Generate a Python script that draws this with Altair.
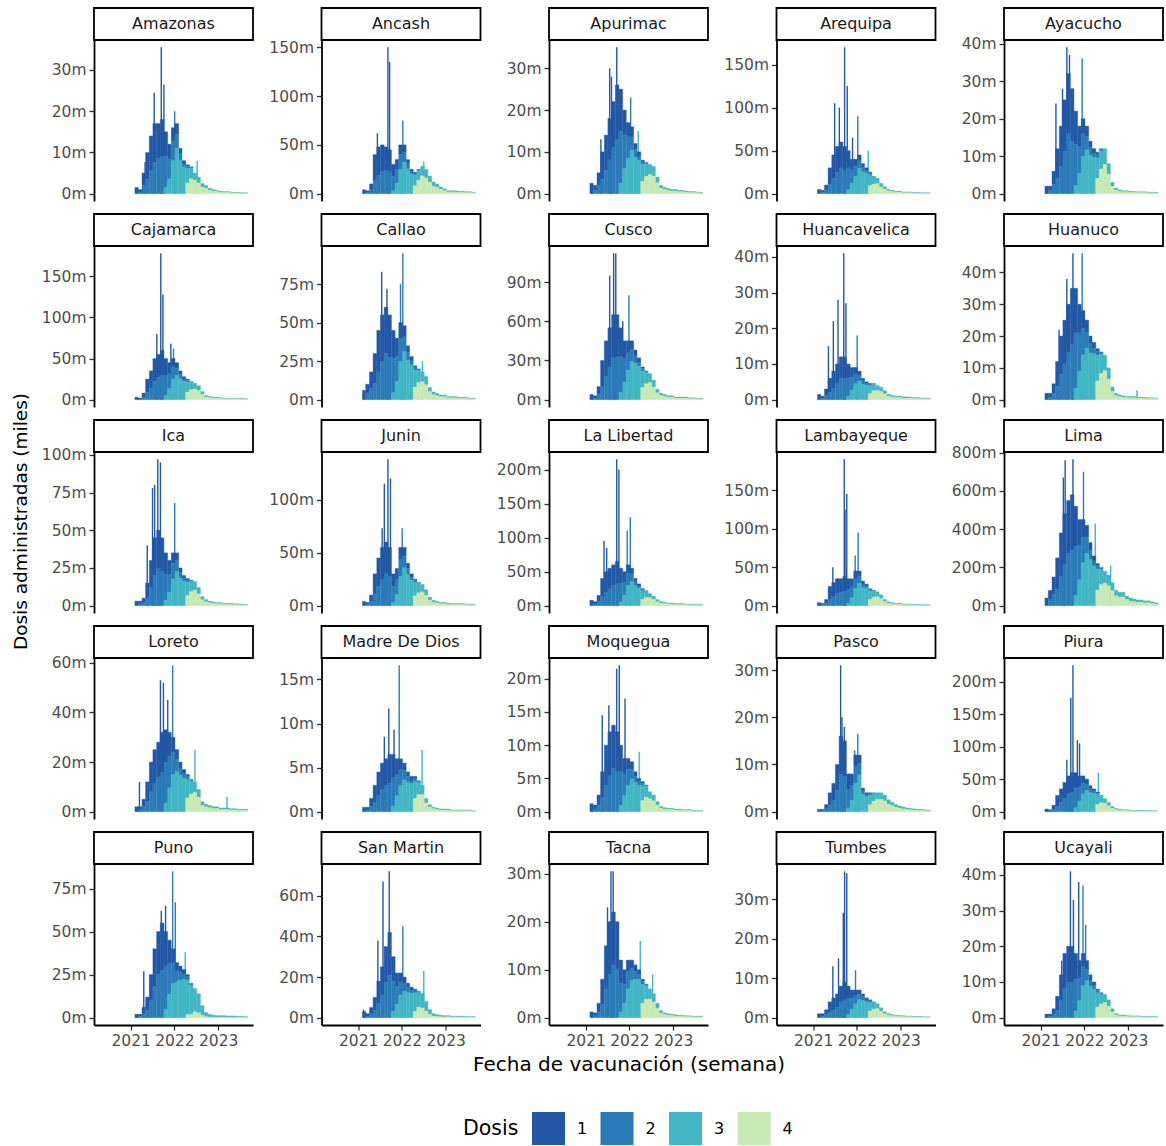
import altair as alt
import pandas as pd

FUENTE = "DejaVu Sans"

REGIONES = [
    "Amazonas", "Ancash", "Apurimac", "Arequipa", "Ayacucho",
    "Cajamarca", "Callao", "Cusco", "Huancavelica", "Huanuco",
    "Ica", "Junin", "La Libertad", "Lambayeque", "Lima",
    "Loreto", "Madre De Dios", "Moquegua", "Pasco", "Piura",
    "Puno", "San Martin", "Tacna", "Tumbes", "Ucayali",
]

MESES = [
    "2021-02-01T00:00", "2021-03-01T00:00", "2021-04-01T00:00", "2021-05-01T00:00",
    "2021-06-01T00:00", "2021-07-01T00:00", "2021-08-01T00:00", "2021-09-01T00:00",
    "2021-10-01T00:00", "2021-11-01T00:00", "2021-12-01T00:00", "2022-01-01T00:00",
    "2022-02-01T00:00", "2022-03-01T00:00", "2022-04-01T00:00", "2022-05-01T00:00",
    "2022-06-01T00:00", "2022-07-01T00:00", "2022-08-01T00:00", "2022-09-01T00:00",
    "2022-10-01T00:00", "2022-11-01T00:00", "2022-12-01T00:00", "2023-01-01T00:00",
    "2023-02-01T00:00", "2023-03-01T00:00", "2023-04-01T00:00", "2023-05-01T00:00",
    "2023-06-01T00:00", "2023-07-01T00:00", "2023-08-01T00:00",
]

# index of the first month of each dose's list in MESES
INICIO = {"1": 0, "2": 1, "3": 8, "4": 14}
DOSIS = ["1", "2", "3", "4"]
COLORES = ["#2258a5", "#2c7cb8", "#41b6c4", "#c7e9b4"]

# weekly doses (thousands) per month and dose
AMAZONAS = {
    "1": [1.5, 0.6, 3, 6.5, 8.4, 9.4, 8.5, 9, 6, 3.6, 3.2, 2.6, 1.3, 0.8, 0.35],
    "2": [0.4, 2, 3.5, 5.6, 7.6, 8.5, 9, 7.5, 4.8, 4.8, 3.4, 1.7, 0.8, 0.56, 0.33],
    "3": [1.5, 3.6, 8, 11, 8, 6.4, 3.5, 2.6, 1.75, 1.4, 0.88, 0.7, 0.46, 0.35, 0.28, 0.24, 0.2, 0.2, 0.16, 0.12, 0.12, 0.08, 0.08],
    "4": [2.6, 3.6, 3.25, 2.6, 1.6, 1.3, 0.85, 0.65, 0.52, 0.36, 0.3, 0.3, 0.24, 0.18, 0.18, 0.12, 0.12],
}
ANCASH = {
    "1": [4, 1.8, 6, 26, 29, 27.5, 24, 22.5, 12, 10.5, 10, 7.5, 4.2, 2.5, 1.1],
    "2": [1.2, 4, 14, 19, 22.5, 24, 22.5, 15, 14, 15, 10, 5.2, 2.5, 1.8, 1.2],
    "3": [3, 10.5, 25, 32.5, 25.5, 20, 11, 10, 9.8, 8.75, 6.3, 4.2, 3.5, 2.45, 1.75, 1.2, 1.2, 1.2, 1, 1, 0.8, 0.8, 0.6],
    "4": [8.1, 13.8, 18.2, 16.2, 11.7, 7.8, 6.5, 4.5, 3.2, 1.8, 1.8, 1.8, 1.5, 1.5, 1.2, 1.2, 0.9],
}
APURIMAC = {
    "1": [2.5, 1.2, 3, 6.5, 8.4, 9.9, 11, 13, 10, 6, 3.4, 2.4, 1.44, 1, 0.4],
    "2": [0.8, 2, 3.5, 5.6, 8.1, 11, 13, 12.5, 8, 5.1, 3.2, 1.8, 1, 0.64, 0.38],
    "3": [2.5, 6, 8.5, 10.4, 8.76, 8, 4, 3, 2.45, 2.28, 1.4, 0.7, 0.53, 0.42, 0.35, 0.4, 0.32, 0.32, 0.24, 0.2, 0.2, 0.16, 0.12],
    "4": [2.96, 4.13, 4.55, 4.23, 2.6, 1.3, 0.98, 0.78, 0.65, 0.6, 0.48, 0.48, 0.36, 0.3, 0.3, 0.24, 0.18],
}
AREQUIPA = {
    "1": [5, 2.4, 6, 19.5, 27, 30.25, 30, 27.5, 20, 12, 8, 6.75, 4.2, 3, 1.25],
    "2": [1.6, 4, 10.5, 18, 24.75, 30, 27.5, 25, 16, 12, 9, 5.25, 3, 2, 1],
    "3": [5, 12, 20, 29.25, 25.55, 24, 12.5, 8, 6.3, 4.2, 2.8, 1.75, 1.4, 1.05, 1.05, 0.8, 0.8, 0.8, 0.6, 0.6, 0.4, 0.4, 0.4],
    "4": [9.25, 11, 11.7, 7.8, 5.2, 3.25, 2.6, 1.95, 1.95, 1.2, 1.2, 1.2, 0.9, 0.9, 0.6, 0.6, 0.6],
}
AYACUCHO = {
    "1": [2, 1.2, 3.6, 7.8, 10.8, 13.75, 16, 14, 8.8, 5.4, 4, 2.7, 1.68, 1.2, 0.55],
    "2": [0.8, 2.4, 4.2, 7.2, 11.25, 16, 14, 11, 7.2, 6, 3.6, 2.1, 1.2, 0.88, 0.6],
    "3": [2.2, 5.4, 10, 11.7, 10.2, 9.6, 5.5, 4.8, 4.2, 2.8, 1.05, 0.53, 0.35, 0.28, 0.28, 0.24, 0.24, 0.2, 0.2, 0.2, 0.16, 0.16, 0.12],
    "4": [4.07, 6.6, 7.8, 5.2, 1.95, 0.98, 0.65, 0.52, 0.52, 0.36, 0.36, 0.3, 0.3, 0.3, 0.24, 0.24, 0.18],
}
CAJAMARCA = {
    "1": [3, 1.2, 4.8, 16.25, 21, 27.5, 27.5, 30, 20, 13.5, 10, 6.75, 4.2, 2.8, 1.25],
    "2": [0.8, 3.2, 8.75, 14, 22.5, 27.5, 30, 25, 18, 15, 9, 5.25, 2.8, 2, 1.1],
    "3": [5, 13.5, 25, 29.25, 25.55, 22.4, 12.5, 8.8, 7, 5.95, 3.5, 1.75, 1.4, 1.05, 1.05, 1, 0.8, 0.8, 0.8, 0.8, 0.6, 0.6, 0.4],
    "4": [9.25, 12.1, 13, 11.05, 6.5, 3.25, 2.6, 1.95, 1.95, 1.5, 1.2, 1.2, 1.2, 1.2, 0.9, 0.9, 0.6],
}
CALLAO = {
    "1": [6, 6, 10.8, 19.5, 27, 30.25, 30, 27.5, 18, 12, 10, 7.2, 4.2, 2.8, 1.1],
    "2": [4, 7.2, 10.5, 18, 24.75, 30, 27.5, 22.5, 16, 15, 9.6, 5.25, 2.8, 1.76, 1],
    "3": [4.5, 12, 25, 31.2, 25.55, 22.4, 11, 8, 6.3, 5.25, 2.8, 1.75, 1.4, 1.05, 1.05, 0.8, 0.8, 0.8, 0.6, 0.6, 0.6, 0.4, 0.4],
    "4": [8.14, 11, 11.7, 9.75, 5.2, 3.25, 2.6, 1.95, 1.95, 1.2, 1.2, 1.2, 0.9, 0.9, 0.9, 0.6, 0.6],
}
CUSCO = {
    "1": [4, 1.8, 6, 19.5, 27, 30.25, 32.5, 32.5, 22, 13.5, 9, 6.75, 4.56, 3.2, 1.25],
    "2": [1.2, 4, 10.5, 18, 24.75, 32.5, 32.5, 27.5, 18, 13.5, 9, 5.7, 3.2, 2, 1.1],
    "3": [5.5, 13.5, 22.5, 29.25, 27.74, 25.6, 12.5, 8.8, 7, 5.25, 2.8, 1.75, 1.4, 1.05, 1.05, 0.8, 0.8, 0.8, 0.8, 0.6, 0.6, 0.4, 0.4],
    "4": [9.25, 12.1, 13, 9.75, 5.2, 3.25, 2.6, 1.95, 1.95, 1.2, 1.2, 1.2, 1.2, 0.9, 0.9, 0.6, 0.6],
}
HUANCAVELICA = {
    "1": [1.5, 0.6, 1.8, 3.9, 4.8, 5.5, 6, 6, 4, 2.7, 1.8, 1.2, 0.72, 0.5, 0.23],
    "2": [0.4, 1.2, 2.1, 3.2, 4.5, 6, 6, 5, 3.6, 2.7, 1.6, 0.9, 0.5, 0.36, 0.23],
    "3": [1, 2.7, 4.5, 5.2, 4.38, 4, 2.25, 1.8, 1.4, 1.23, 0.88, 0.53, 0.42, 0.35, 0.35, 0.32, 0.32, 0.28, 0.24, 0.24, 0.2, 0.2, 0.16],
    "4": [1.67, 2.48, 2.6, 2.28, 1.63, 0.98, 0.78, 0.65, 0.65, 0.48, 0.48, 0.42, 0.36, 0.36, 0.3, 0.3, 0.24],
}
HUANUCO = {
    "1": [2, 1.2, 3, 7.8, 12, 13.75, 15, 17.5, 14, 9, 5.6, 3.75, 2.4, 1.8, 0.8],
    "2": [0.8, 2, 4.2, 8, 11.25, 15, 17.5, 17.5, 12, 8.4, 5, 3, 1.8, 1.28, 0.75],
    "3": [3.5, 9, 14, 16.25, 14.6, 14.4, 8, 6, 4.9, 3.5, 1.4, 0.7, 0.53, 0.42, 0.35, 0.4, 0.4, 0.32, 0.32, 0.28, 0.24, 0.24, 0.2],
    "4": [5.92, 8.25, 9.1, 6.5, 2.6, 1.3, 0.98, 0.78, 0.65, 0.6, 0.6, 0.48, 0.48, 0.42, 0.36, 0.36, 0.3],
}
ICA = {
    "1": [3, 1.8, 3, 9.75, 18, 24.75, 25, 22.5, 14, 9, 7, 5.25, 3, 2, 0.9],
    "2": [1.2, 2, 5.25, 12, 20.25, 25, 22.5, 17.5, 12, 10.5, 7, 3.75, 2, 1.44, 0.85],
    "3": [3.5, 9, 17.5, 22.75, 18.25, 16, 9, 6.8, 5.6, 4.2, 2.1, 1.4, 1.05, 0.88, 0.7, 0.8, 0.6, 0.6, 0.6, 0.48, 0.48, 0.4, 0.4],
    "4": [6.66, 9.35, 10.4, 7.8, 3.9, 2.6, 1.95, 1.63, 1.3, 1.2, 0.9, 0.9, 0.9, 0.72, 0.72, 0.6, 0.6],
}
JUNIN = {
    "1": [4, 1.8, 6, 19.5, 27, 30.25, 30, 27.5, 12, 10.5, 11, 8.25, 4.8, 3, 1.25],
    "2": [1.2, 4, 10.5, 18, 24.75, 30, 27.5, 15, 14, 16.5, 11, 6, 3, 2, 1.1],
    "3": [3, 10.5, 27.5, 35.75, 29.2, 24, 12.5, 8.8, 7, 5.25, 2.8, 1.75, 1.4, 1.05, 1.05, 1, 0.8, 0.8, 0.8, 0.8, 0.6, 0.6, 0.4],
    "4": [9.25, 12.1, 13, 9.75, 5.2, 3.25, 2.6, 1.95, 1.95, 1.5, 1.2, 1.2, 1.2, 1.2, 0.9, 0.9, 0.6],
}
LA_LIBERTAD = {
    "1": [8, 3.6, 9, 26, 30, 30.25, 30, 32.5, 22, 15, 12, 8.25, 4.8, 3.2, 1.25],
    "2": [2.4, 6, 14, 20, 24.75, 30, 32.5, 27.5, 20, 18, 11, 6, 3.2, 2, 1.1],
    "3": [5.5, 15, 30, 35.75, 29.2, 25.6, 12.5, 8.8, 6.3, 4.9, 3.15, 2.1, 1.75, 1.4, 1.4, 1.2, 1.2, 1.2, 1, 1, 0.8, 0.8, 0.6],
    "4": [9.25, 12.1, 11.7, 9.1, 5.85, 3.9, 3.25, 2.6, 2.6, 1.8, 1.8, 1.8, 1.5, 1.5, 1.2, 1.2, 0.9],
}
LAMBAYEQUE = {
    "1": [4, 1.8, 4.8, 16.25, 18, 19.25, 17.5, 19, 14, 10.5, 9, 6.75, 3.84, 2.8, 1.1],
    "2": [1.2, 3.2, 8.75, 12, 15.75, 17.5, 19, 17.5, 14, 13.5, 9, 4.8, 2.8, 1.76, 1],
    "3": [3.5, 10.5, 22.5, 29.25, 23.36, 22.4, 11, 8, 6.3, 4.9, 2.8, 1.75, 1.4, 1.05, 1.05, 0.8, 0.8, 0.8, 0.6, 0.6, 0.48, 0.48, 0.4],
    "4": [8.14, 11, 11.7, 9.1, 5.2, 3.25, 2.6, 1.95, 1.95, 1.2, 1.2, 1.2, 0.9, 0.9, 0.72, 0.72, 0.6],
}
LIMA = {
    "1": [40, 48, 90, 162.5, 228, 264, 275, 290, 208, 135, 90, 63, 39.6, 26, 11],
    "2": [32, 60, 87.5, 152, 216, 275, 290, 260, 180, 135, 84, 49.5, 26, 17.6, 10],
    "3": [52, 135, 225, 273, 241, 208, 110, 80, 63, 56, 42, 28, 24.5, 24.5, 17.5, 16, 14, 12, 12, 10, 10, 8, 6],
    "4": [81.4, 110, 117, 104, 78, 52, 45.5, 45.5, 32.5, 24, 21, 18, 18, 15, 15, 12, 9],
}
LORETO = {
    "1": [2, 1.2, 3, 7.8, 12, 13.75, 14, 16, 13.2, 9.6, 6, 3.75, 2.4, 1.7, 0.75],
    "2": [0.8, 2, 4.2, 8, 11.25, 14, 16, 16.5, 12.8, 9, 5, 3, 1.7, 1.2, 0.65],
    "3": [3.3, 9.6, 15, 16.25, 14.6, 13.6, 7.5, 5.2, 4.2, 3.15, 1.4, 1.05, 0.88, 0.7, 0.7, 0.6, 0.6, 0.6, 0.48, 0.48, 0.4, 0.4, 0.4],
    "4": [5.55, 7.15, 7.8, 5.85, 2.6, 1.95, 1.63, 1.3, 1.3, 0.9, 0.9, 0.9, 0.72, 0.72, 0.6, 0.6, 0.6],
}
MADRE_DE_DIOS = {
    "1": [0.5, 0.3, 0.9, 1.95, 2.7, 3.03, 3, 3.25, 2.6, 1.8, 1.2, 0.83, 0.54, 0.4, 0.2],
    "2": [0.2, 0.6, 1.05, 1.8, 2.48, 3, 3.25, 3.25, 2.4, 1.8, 1.1, 0.68, 0.4, 0.32, 0.18],
    "3": [0.65, 1.8, 3, 3.58, 3.29, 3.2, 2, 1.4, 1.05, 0.53, 0.28, 0.18, 0.14, 0.11, 0.11, 0.12, 0.08, 0.08, 0.08, 0.08, 0.08, 0.08, 0.04],
    "4": [1.48, 1.93, 1.95, 0.98, 0.52, 0.33, 0.26, 0.2, 0.2, 0.18, 0.12, 0.12, 0.12, 0.12, 0.12, 0.12, 0.06],
}
MOQUEGUA = {
    "1": [1.2, 0.6, 1.5, 3.9, 6, 6.6, 6.5, 6, 4, 2.4, 1.6, 1.13, 0.72, 0.5, 0.23],
    "2": [0.4, 1, 2.1, 4, 5.4, 6.5, 6, 5, 3.2, 2.4, 1.5, 0.9, 0.5, 0.36, 0.2],
    "3": [1, 2.4, 4, 4.88, 4.38, 4, 2.25, 1.6, 1.05, 0.88, 0.53, 0.28, 0.21, 0.18, 0.18, 0.16, 0.16, 0.12, 0.12, 0.12, 0.08, 0.08, 0.08],
    "4": [1.67, 2.2, 1.95, 1.63, 0.98, 0.52, 0.39, 0.33, 0.33, 0.24, 0.24, 0.18, 0.18, 0.18, 0.12, 0.12, 0.12],
}
PASCO = {
    "1": [0.5, 0.3, 0.9, 2.6, 3.6, 5.5, 8, 7.5, 3.2, 2.4, 2.4, 1.8, 0.6, 0.4, 0.2],
    "2": [0.2, 0.6, 1.4, 2.4, 4.5, 8, 7.5, 4, 3.2, 3.6, 2.4, 0.75, 0.4, 0.32, 0.2],
    "3": [0.8, 2.4, 6, 7.8, 3.65, 3.2, 2, 1.6, 1.4, 1.4, 1.23, 0.88, 0.7, 0.53, 0.42, 0.4, 0.32, 0.28, 0.24, 0.2, 0.2, 0.16, 0.12],
    "4": [1.48, 2.2, 2.6, 2.6, 2.28, 1.63, 1.3, 0.98, 0.78, 0.6, 0.48, 0.42, 0.36, 0.3, 0.3, 0.24, 0.18],
}
PIURA = {
    "1": [4, 1.8, 6, 16.25, 21, 24.75, 27.5, 30, 24, 16.5, 11, 7.5, 4.8, 3.5, 1.5],
    "2": [1.2, 4, 8.75, 14, 20.25, 27.5, 30, 30, 22, 16.5, 10, 6, 3.5, 2.4, 1.25],
    "3": [6, 16.5, 27.5, 32.5, 29.2, 28, 15, 10, 7, 4.9, 2.8, 1.75, 1.4, 1.05, 1.05, 1, 0.8, 0.8, 0.8, 0.6, 0.6, 0.6, 0.4],
    "4": [11.1, 13.75, 13, 9.1, 5.2, 3.25, 2.6, 1.95, 1.95, 1.5, 1.2, 1.2, 1.2, 0.9, 0.9, 0.9, 0.6],
}
PUNO = {
    "1": [2, 1.2, 3.6, 7.8, 15, 22, 25, 27.5, 20, 13.5, 8, 4.8, 3.6, 2.8, 1.25],
    "2": [0.8, 2.4, 4.2, 10, 18, 25, 27.5, 25, 18, 12, 6.4, 4.5, 2.8, 2, 1],
    "3": [5, 13.5, 20, 20.8, 21.9, 22.4, 20, 17, 13.6, 11.2, 5.6, 2.4, 1.6, 1.2, 0.96, 0.84, 0.84, 0.7, 0.7, 0.7, 0.56, 0.56, 0.42],
    "4": [1.75, 2, 3.4, 2.8, 1.4, 0.6, 0.4, 0.3, 0.24, 0.36, 0.36, 0.3, 0.3, 0.3, 0.24, 0.24, 0.18],
}
SAN_MARTIN = {
    "1": [3, 1.2, 3, 6.5, 10.8, 13.75, 17.5, 21, 12, 6.6, 4.4, 3, 2.04, 1.5, 0.7],
    "2": [0.8, 2, 3.5, 7.2, 11.25, 17.5, 21, 15, 8.8, 6.6, 4, 2.55, 1.5, 1.12, 0.65],
    "3": [3, 6.6, 11, 13, 12.41, 12, 9.1, 7.15, 7.2, 4.8, 2.4, 1.2, 0.9, 0.72, 0.6, 0.5, 0.4, 0.4, 0.35, 0.35, 0.3, 0.25, 0.25],
    "4": [3.1, 5.2, 4.8, 3.2, 1.6, 0.8, 0.6, 0.48, 0.4, 0.5, 0.4, 0.4, 0.35, 0.35, 0.3, 0.25, 0.25],
}
TACNA = {
    "1": [1.2, 0.6, 1.8, 5.2, 9, 11, 11, 10, 4.8, 3, 2.4, 1.8, 1.32, 1, 0.4],
    "2": [0.4, 1.2, 2.8, 6, 9, 11, 10, 6, 4, 3.6, 2.4, 1.65, 1, 0.64, 0.35],
    "3": [1.2, 3, 6, 7.8, 8.03, 8, 4, 2.8, 2.1, 1.75, 1.05, 0.53, 0.35, 0.28, 0.25, 0.24, 0.2, 0.2, 0.16, 0.16, 0.12, 0.12, 0.12],
    "4": [2.96, 3.85, 3.9, 3.25, 1.95, 0.98, 0.65, 0.52, 0.46, 0.36, 0.3, 0.3, 0.24, 0.24, 0.18, 0.18, 0.18],
}
TUMBES = {
    "1": [1, 0.6, 1.2, 2.6, 3, 3.3, 4, 4.5, 3.2, 2.1, 1.4, 1.05, 0.72, 0.5, 0.23],
    "2": [0.4, 0.8, 1.4, 2, 2.7, 4, 4.5, 4, 2.8, 2.1, 1.4, 0.9, 0.5, 0.36, 0.2],
    "3": [0.8, 2.1, 3.5, 4.55, 4.38, 4, 2.25, 1.6, 1.23, 0.88, 0.53, 0.35, 0.28, 0.21, 0.18, 0.2, 0.16, 0.16, 0.12, 0.12, 0.12, 0.08, 0.08],
    "4": [1.67, 2.2, 2.28, 1.63, 0.98, 0.65, 0.52, 0.39, 0.33, 0.3, 0.24, 0.24, 0.18, 0.18, 0.18, 0.12, 0.12],
}
UCAYALI = {
    "1": [1, 0.6, 1.5, 3.9, 7.2, 9.9, 10, 10, 7.2, 4.8, 3.6, 2.4, 1.44, 1, 0.4],
    "2": [0.4, 1, 2.1, 4.8, 8.1, 10, 10, 9, 6.4, 5.4, 3.2, 1.8, 1, 0.64, 0.35],
    "3": [1.8, 4.8, 9, 10.4, 8.76, 8, 4, 2.8, 2.28, 1.75, 0.88, 0.42, 0.28, 0.25, 0.21, 0.2, 0.2, 0.2, 0.16, 0.16, 0.12, 0.12, 0.12],
    "4": [2.96, 3.85, 4.23, 3.25, 1.63, 0.78, 0.52, 0.46, 0.39, 0.3, 0.3, 0.3, 0.24, 0.24, 0.18, 0.18, 0.18],
}

SERIES = {
    "Amazonas": AMAZONAS, "Ancash": ANCASH, "Apurimac": APURIMAC, "Arequipa": AREQUIPA,
    "Ayacucho": AYACUCHO, "Cajamarca": CAJAMARCA, "Callao": CALLAO, "Cusco": CUSCO,
    "Huancavelica": HUANCAVELICA, "Huanuco": HUANUCO, "Ica": ICA, "Junin": JUNIN,
    "La Libertad": LA_LIBERTAD, "Lambayeque": LAMBAYEQUE, "Lima": LIMA, "Loreto": LORETO,
    "Madre De Dios": MADRE_DE_DIOS, "Moquegua": MOQUEGUA, "Pasco": PASCO, "Piura": PIURA,
    "Puno": PUNO, "San Martin": SAN_MARTIN, "Tacna": TACNA, "Tumbes": TUMBES, "Ucayali": UCAYALI,
}

# single-week peaks (date, thousands, dose on top of the stack)
PICOS = {
    "Amazonas": [("2021-05-01T00:00", 7.7, 1), ("2021-07-16T00:00", 24.5, 1), ("2021-09-13T00:00", 35.5, 1), ("2021-10-05T00:00", 26.5, 1), ("2022-01-03T00:00", 20, 2), ("2022-07-09T00:00", 8, 3)],
    "Ancash": [("2021-06-10T00:00", 62, 1), ("2021-09-06T00:00", 150, 1), ("2021-09-20T00:00", 135, 1), ("2022-01-08T00:00", 75, 2), ("2022-07-02T00:00", 33, 3)],
    "Apurimac": [("2021-05-08T00:00", 13, 1), ("2021-07-20T00:00", 30, 1), ("2021-08-04T00:00", 28, 1), ("2021-09-17T00:00", 35, 1), ("2022-01-11T00:00", 23, 2), ("2022-03-15T00:00", 15, 3)],
    "Arequipa": [("2021-06-29T00:00", 105, 1), ("2021-08-07T00:00", 100, 1), ("2021-09-20T00:00", 170, 1), ("2021-10-12T00:00", 125, 1), ("2021-11-25T00:00", 65, 1), ("2022-01-08T00:00", 90, 2), ("2022-04-05T00:00", 50, 3)],
    "Ayacucho": [("2021-05-08T00:00", 24, 1), ("2021-07-02T00:00", 28, 1), ("2021-08-07T00:00", 39, 1), ("2021-08-29T00:00", 37, 1), ("2021-12-13T00:00", 36, 2)],
    "Cajamarca": [("2021-08-07T00:00", 80, 1), ("2021-09-09T00:00", 178, 1), ("2021-09-27T00:00", 128, 1), ("2021-12-02T00:00", 68, 1), ("2021-12-24T00:00", 62, 2)],
    "Callao": [("2021-07-16T00:00", 83, 1), ("2021-08-29T00:00", 72, 1), ("2021-12-20T00:00", 75, 2), ("2022-01-08T00:00", 95, 2), ("2022-06-21T00:00", 25, 3)],
    "Cusco": [("2021-07-20T00:00", 95, 1), ("2021-08-22T00:00", 112, 1), ("2021-09-09T00:00", 112, 1), ("2021-11-06T00:00", 60, 1), ("2021-12-28T00:00", 80, 2)],
    "Huancavelica": [("2021-05-08T00:00", 15, 1), ("2021-06-18T00:00", 22, 1), ("2021-07-27T00:00", 28, 1), ("2021-09-13T00:00", 41, 1), ("2021-10-01T00:00", 27, 1), ("2022-01-03T00:00", 18, 2)],
    "Huanuco": [("2021-06-03T00:00", 22, 1), ("2021-08-07T00:00", 38, 1), ("2021-09-27T00:00", 46, 1), ("2021-12-13T00:00", 46, 2), ("2023-03-15T00:00", 3, 3)],
    "Ica": [("2021-05-19T00:00", 40, 1), ("2021-07-02T00:00", 78, 1), ("2021-07-20T00:00", 80, 1), ("2021-08-15T00:00", 97, 1), ("2021-09-06T00:00", 95, 1), ("2022-01-03T00:00", 68, 2)],
    "Junin": [("2021-07-20T00:00", 73, 1), ("2021-08-07T00:00", 115, 1), ("2021-09-06T00:00", 138, 1), ("2021-09-27T00:00", 120, 1), ("2022-01-03T00:00", 73, 2)],
    "La Libertad": [("2021-06-03T00:00", 95, 1), ("2021-06-25T00:00", 85, 1), ("2021-09-17T00:00", 215, 1), ("2021-10-05T00:00", 200, 1), ("2021-12-13T00:00", 110, 2), ("2022-01-08T00:00", 130, 2)],
    "Lambayeque": [("2021-06-14T00:00", 50, 1), ("2021-09-17T00:00", 190, 1), ("2021-09-24T00:00", 125, 1), ("2021-10-08T00:00", 145, 1), ("2021-12-17T00:00", 65, 2), ("2022-01-11T00:00", 95, 2)],
    "Lima": [("2021-07-09T00:00", 670, 1), ("2021-07-24T00:00", 760, 1), ("2021-09-27T00:00", 765, 1), ("2021-12-24T00:00", 700, 2), ("2022-04-01T00:00", 430, 3), ("2022-08-07T00:00", 210, 3)],
    "Loreto": [("2021-03-15T00:00", 12, 1), ("2021-09-06T00:00", 53, 1), ("2021-10-01T00:00", 52, 1), ("2021-11-06T00:00", 45, 1), ("2021-12-17T00:00", 59, 2), ("2022-06-21T00:00", 25, 3), ("2023-03-15T00:00", 6, 3)],
    "Madre De Dios": [("2021-05-19T00:00", 2, 1), ("2021-08-07T00:00", 8.5, 1), ("2021-09-13T00:00", 11.7, 1), ("2021-10-27T00:00", 9.3, 1), ("2021-12-09T00:00", 16.6, 2), ("2022-06-18T00:00", 7, 3)],
    "Moquegua": [("2021-05-19T00:00", 14.5, 1), ("2021-07-13T00:00", 16, 1), ("2021-09-17T00:00", 21.5, 1), ("2021-10-08T00:00", 22, 1), ("2021-11-25T00:00", 17, 1), ("2022-03-23T00:00", 9, 3)],
    "Pasco": [("2021-08-18T00:00", 31, 1), ("2021-08-29T00:00", 20, 1), ("2021-09-17T00:00", 18, 1), ("2021-12-13T00:00", 13, 2), ("2022-01-08T00:00", 16.5, 2)],
    "Piura": [("2021-08-07T00:00", 80, 1), ("2021-09-09T00:00", 175, 1), ("2021-09-27T00:00", 225, 1), ("2021-11-03T00:00", 110, 1), ("2021-11-21T00:00", 105, 1), ("2022-04-27T00:00", 60, 3)],
    "Puno": [("2021-04-20T00:00", 27, 1), ("2021-06-14T00:00", 25, 1), ("2021-09-13T00:00", 62, 1), ("2021-10-19T00:00", 65, 1), ("2021-12-17T00:00", 85, 2), ("2022-01-08T00:00", 67, 2), ("2022-04-01T00:00", 38, 3)],
    "San Martin": [("2021-02-15T00:00", 4, 1), ("2021-06-14T00:00", 38, 1), ("2021-07-27T00:00", 67, 1), ("2021-09-17T00:00", 72, 1), ("2022-01-08T00:00", 45, 2), ("2022-07-02T00:00", 23, 3)],
    "Tacna": [("2021-07-02T00:00", 23, 1), ("2021-07-31T00:00", 30.5, 1), ("2021-08-18T00:00", 30.5, 1), ("2022-04-01T00:00", 16, 3), ("2022-07-13T00:00", 9, 3)],
    "Tumbes": [("2021-06-14T00:00", 13, 1), ("2021-07-31T00:00", 15, 1), ("2021-09-09T00:00", 26.5, 1), ("2021-09-20T00:00", 37, 1), ("2021-10-08T00:00", 36.5, 1), ("2021-12-20T00:00", 12, 2)],
    "Ucayali": [("2021-06-25T00:00", 16, 1), ("2021-09-06T00:00", 41, 1), ("2021-10-01T00:00", 33, 1), ("2021-11-14T00:00", 38, 1), ("2021-12-20T00:00", 37, 2), ("2022-01-11T00:00", 26, 2)],
}

TICKS = {
    "Amazonas": [0, 10, 20, 30], "Ancash": [0, 50, 100, 150], "Apurimac": [0, 10, 20, 30],
    "Arequipa": [0, 50, 100, 150], "Ayacucho": [0, 10, 20, 30, 40], "Cajamarca": [0, 50, 100, 150],
    "Callao": [0, 25, 50, 75], "Cusco": [0, 30, 60, 90], "Huancavelica": [0, 10, 20, 30, 40],
    "Huanuco": [0, 10, 20, 30, 40], "Ica": [0, 25, 50, 75, 100], "Junin": [0, 50, 100],
    "La Libertad": [0, 50, 100, 150, 200], "Lambayeque": [0, 50, 100, 150], "Lima": [0, 200, 400, 600, 800],
    "Loreto": [0, 20, 40, 60], "Madre De Dios": [0, 5, 10, 15], "Moquegua": [0, 5, 10, 15, 20],
    "Pasco": [0, 10, 20, 30], "Piura": [0, 50, 100, 150, 200], "Puno": [0, 25, 50, 75],
    "San Martin": [0, 20, 40, 60], "Tacna": [0, 10, 20, 30], "Tumbes": [0, 10, 20, 30],
    "Ucayali": [0, 10, 20, 30, 40],
}

W, H = 159, 161
X_DOMINIO = [alt.DateTime(year=2020, month=3, date=1), alt.DateTime(year=2023, month=10, date=18)]
ANIOS = [alt.DateTime(year=2021, month=1, date=1), alt.DateTime(year=2022, month=1, date=1),
         alt.DateTime(year=2023, month=1, date=1)]

LEYENDA = alt.Legend(
    title="Dosis", orient="none", legendX=369, legendY=1072, direction="horizontal",
    titleOrient="left", symbolType="square", symbolSize=1089, symbolStrokeWidth=0,
    labelFontSize=16, titleFontSize=20.5, titleFontWeight="normal", titleColor="black",
    labelColor="black", labelOffset=12, columnPadding=12.5, titlePadding=13,
    labelFont=FUENTE, titleFont=FUENTE, titleBaseline="middle",
)


def panel(nombre, fila, col):
    serie = SERIES[nombre]
    registros = []
    for dosis, valores in serie.items():
        ini = INICIO[dosis]
        for i, v in enumerate(valores):
            registros.append({"mes": MESES[ini + i], "dosis": dosis, "valor": v})
    df = pd.DataFrame(registros)
    picos = pd.DataFrame(PICOS[nombre], columns=["fecha", "valor", "dosis"])
    picos["dosis"] = picos["dosis"].astype(str)
    r = max(df.groupby("mes")["valor"].sum().max(), picos["valor"].max())
    y_scale = alt.Scale(domain=[-0.05 * r, 1.05 * r], nice=False, zero=False)
    x_scale = alt.Scale(domain=X_DOMINIO, padding=0)

    if nombre == "Ica":
        y_axis = alt.Axis(values=TICKS[nombre], labelExpr="datum.value + 'm'",
                          title="Dosis administradas (miles)", titleX=-74, titleY=69,
                          titleAngle=270, titleAlign="center", titleBaseline="middle",
                          titleFontSize=18.5, titleFontWeight="normal", titleColor="black")
    else:
        y_axis = alt.Axis(values=TICKS[nombre], labelExpr="datum.value + 'm'", title=None)

    if fila == 4:
        if nombre == "Tacna":
            x_axis = alt.Axis(values=ANIOS, format="%Y", title="Fecha de vacunación (semana)",
                              titleFontSize=20, titleFontWeight="normal", titleColor="black",
                              titlePadding=6)
        else:
            x_axis = alt.Axis(values=ANIOS, format="%Y", title=None)
    else:
        x_axis = None

    color = alt.Color("dosis:N", scale=alt.Scale(domain=DOSIS, range=COLORES), legend=LEYENDA)

    capa_picos = alt.Chart(picos).mark_bar(size=1.4).encode(
        x=alt.X("fecha:T", scale=x_scale, axis=x_axis),
        y=alt.Y("valor:Q", scale=y_scale, axis=y_axis, stack=None),
        color=color,
    )
    capa_barras = alt.Chart(df).mark_bar(binSpacing=0, strokeWidth=0.4).encode(
        x=alt.X("mes:T", timeUnit="yearmonth", scale=x_scale, axis=x_axis),
        y=alt.Y("valor:Q", scale=y_scale, axis=y_axis, stack="zero"),
        color=color,
        stroke=alt.Stroke("dosis:N", scale=alt.Scale(domain=DOSIS, range=COLORES), legend=None),
        order=alt.Order("dosis:N", sort="descending"),
    )
    tira = pd.DataFrame({"r": [nombre]})
    marco = alt.Chart(tira).mark_rect(fill="white", stroke="black", strokeWidth=1.8).encode(
        x=alt.value(0), x2=alt.value(W), y=alt.value(-32), y2=alt.value(0)
    )
    texto = alt.Chart(tira).mark_text(fontSize=16, font=FUENTE, color="#1a1a1a",
                                      align="center", baseline="middle").encode(
        x=alt.value(W / 2), y=alt.value(-16), text="r:N"
    )
    return alt.layer(capa_picos, capa_barras, marco, texto).properties(width=W, height=H)


paneles = [panel(n, i // 5, i % 5) for i, n in enumerate(REGIONES)]

chart = alt.concat(
    *paneles, columns=5, spacing={"row": 45, "column": 68.5}, bounds="flush"
).resolve_scale(y="independent").properties(
    padding={"left": 11, "top": 7, "right": 2, "bottom": 2},
    background="white",
).configure_view(stroke=None).configure_axis(
    domainColor="black", domainWidth=1.8, tickColor="#333333", tickWidth=1.3, tickSize=5,
    labelColor="#4d4d4d", labelFontSize=15.5, labelFont=FUENTE, titleFont=FUENTE,
    grid=False, labelPadding=3,
)

chart.save("out.html", embed_options={"renderer": "svg", "actions": False})
